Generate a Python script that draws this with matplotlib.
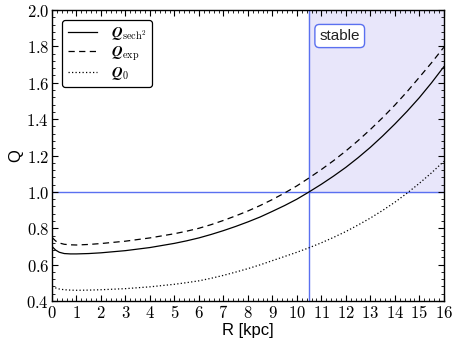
import numpy as np
import matplotlib
matplotlib.use("Agg")
import matplotlib.pyplot as plt
from matplotlib.ticker import MultipleLocator, AutoMinorLocator, FuncFormatter

plt.rcParams['mathtext.fontset'] = 'cm'

# values
R = [0, 0.15, 0.3, 0.5, 0.75, 1, 1.5, 2, 3, 4, 5,
     5.5, 6, 6.5, 7, 7.5, 8, 8.5, 9, 9.5, 10, 10.5, 11,
     11.5, 12, 12.5, 13, 13.5, 14, 14.5, 15, 15.5, 16]
Q_sech2 = [0.70, 0.68, 0.668, 0.661, 0.659, 0.659, 0.661, 0.665, 0.677, 0.694, 0.717,
           0.731, 0.747, 0.766, 0.787, 0.81, 0.835, 0.862, 0.893, 0.925, 0.960, 1.0, 1.042,
           1.087, 1.135, 1.188, 1.245, 1.307, 1.373, 1.443, 1.518, 1.600, 1.688]
Q_exp = [0.75, 0.73, 0.719, 0.712, 0.709, 0.708, 0.711, 0.716, 0.729, 0.747, 0.77,
         0.784, 0.80, 0.82, 0.843, 0.868, 0.895, 0.925, 0.958, 0.994, 1.033, 1.077, 1.123,
         1.172, 1.225, 1.282, 1.343, 1.408, 1.477, 1.551, 1.630, 1.71, 1.795]
Q_0 = [0.48, 0.472, 0.466, 0.462, 0.46, 0.459, 0.46, 0.462, 0.468, 0.478, 0.492,
       0.501, 0.511, 0.525, 0.541, 0.559, 0.578, 0.599, 0.622, 0.645, 0.668, 0.693, 0.72,
       0.75, 0.782, 0.818, 0.856, 0.898, 0.943, 0.993, 1.047, 1.105, 1.168]
R_crit = 10.5
Q_crit = 1.0

fig = plt.figure(figsize=(4.58, 3.43), dpi=100)
ax = fig.add_axes([0.1135, 0.1224, 0.8555, 0.8484])

blue = '#5a70f0'
ax.fill_between([R_crit, 16], Q_crit, 2.0, color='#e8e6fa', zorder=0)
ax.axvline(R_crit, color=blue, lw=1.0, zorder=1)
ax.axhline(Q_crit, color=blue, lw=1.0, zorder=1)

ax.plot(R, Q_sech2, 'k-', lw=0.9, label=r'$\mathbfit{Q}_{\rm sech^2}$')
ax.plot(R, Q_exp, 'k--', lw=0.9, dashes=(5, 3.5), label=r'$\mathbfit{Q}_{\rm exp}$')
ax.plot(R, Q_0, 'k:', lw=0.9, dashes=(1, 1.8), label=r'$\mathbfit{Q}_0$')

ax.set_xlim(0, 16)
ax.set_ylim(0.4, 2.0)
ax.xaxis.set_major_locator(MultipleLocator(1))
ax.yaxis.set_major_locator(MultipleLocator(0.2))
ax.xaxis.set_minor_locator(AutoMinorLocator(5))
ax.yaxis.set_minor_locator(AutoMinorLocator(5))
ax.xaxis.set_major_formatter(FuncFormatter(lambda v, p: r'$\mathbf{%d}$' % round(v)))
ax.yaxis.set_major_formatter(FuncFormatter(lambda v, p: r'$\mathbf{%.1f}$' % v))
ax.tick_params(which='both', direction='in', top=True, right=True, labelsize=12, pad=2)
ax.tick_params(which='major', length=4, width=0.8)
ax.tick_params(which='minor', length=2, width=0.6)
for s in ax.spines.values():
    s.set_linewidth(1.0)

ax.set_xlabel('R [kpc]', family='Liberation Sans', fontsize=12, labelpad=1)
ax.set_ylabel('Q', family='Liberation Sans', fontsize=12, labelpad=2)

ax.text(11.75, 1.857, 'stable', family='Liberation Sans', fontsize=11, color='#222222',
        ha='center', va='center',
        bbox=dict(boxstyle='round,pad=0.3', fc='white', ec=blue, lw=1.0))

leg = ax.legend(loc='upper left', fontsize=10.5, frameon=True, fancybox=True,
                handlelength=2.0, borderpad=0.35, labelspacing=0.15, handletextpad=1.0,
                bbox_to_anchor=(0.008, 0.99))
leg.get_frame().set_edgecolor('black')
leg.get_frame().set_linewidth(0.9)
leg.get_frame().set_alpha(1)

fig.savefig('out.png', dpi=100)
